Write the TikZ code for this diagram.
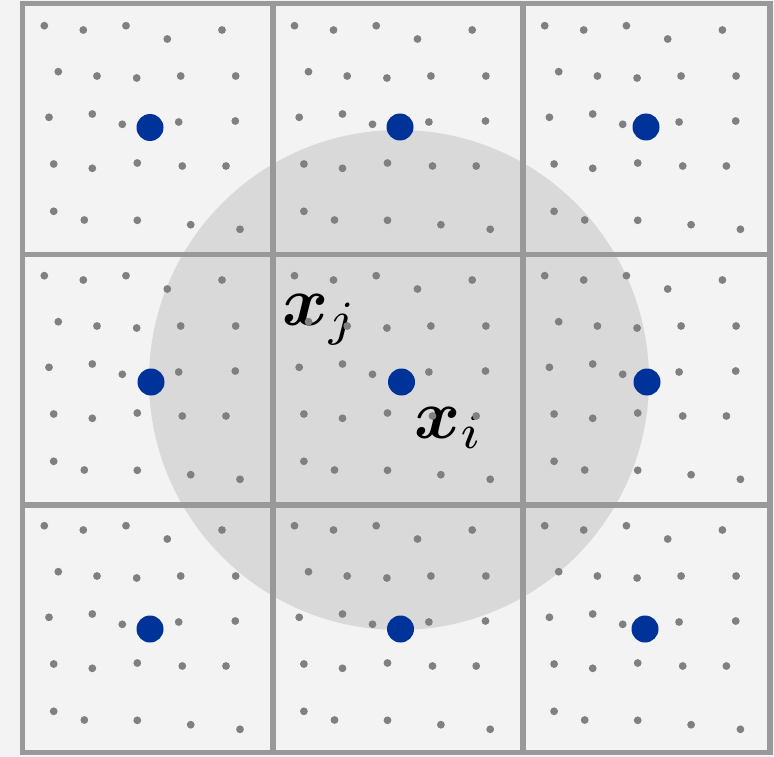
\documentclass[tikz,border=0pt]{standalone}
\usepackage{bm}
\definecolor{bgc}{HTML}{F3F3F3}
\definecolor{diskc}{HTML}{D9D9D9}
\definecolor{gridc}{HTML}{999999}
\definecolor{dotc}{HTML}{808080}
\definecolor{bluec}{RGB}{0,51,153}
\begin{document}
\begin{tikzpicture}[x=1pt,y=-1pt,
  gridline/.style={draw=gridc,line width=5.5pt},
  graydot/.style={fill=dotc},
  bluedot/.style={fill=bluec},
  lab/.style={anchor=base west,inner sep=0pt,font=\normalsize,scale=7}]
\useasboundingbox (0,0) rectangle (774,757);
\fill[bgc] (0,0) rectangle (774,757);
\fill[diskc] (399,380) circle (250pt);
% grid
\foreach \gx in {22.5,273,523,770}
  \draw[gridline] (\gx,3.5) -- (\gx,752.5);
\foreach \gy in {3.5,254.5,505,752.5}
  \draw[gridline] (19.75,\gy) -- (772.75,\gy);
% labels
\node[lab] (xj) at (281,325) {$\bm{x}_j$};
\node[lab] (xi) at (413,438) {$\bm{x}_i$};
% gray dots
\foreach \i in {0,1,2}{
  \foreach \j in {0,1,2}{
    \foreach \p/\q in {44.3/25.7,83.3/30,126/25.7,167.3/39,222/30,
                       58.3/71.7,97/76,136.7/78,180.7/76,235.7/76,
                       49/117.3,92.3/114,122.3/124.3,178.7/122,235.3/121,
                       53.7/164,92.3/168.3,137.3/163,182.3/166,226/166,
                       53.7/211.3,84.3/220,137.3/220.3,190.7/224.7,240/229.3}{
      \fill[graydot] ({\p+250.2*\i},{\q+250*\j}) circle (3.9pt);
    }
  }
}
% blue dots
\foreach \bx/\by in {150/127.5,400/127,646/127,
                     151/382,401.5/382,647/382,
                     150/629,400.5/629,645/629}
  \fill[bluedot] (\bx,\by) circle (13.5pt);
\end{tikzpicture}
\end{document}
